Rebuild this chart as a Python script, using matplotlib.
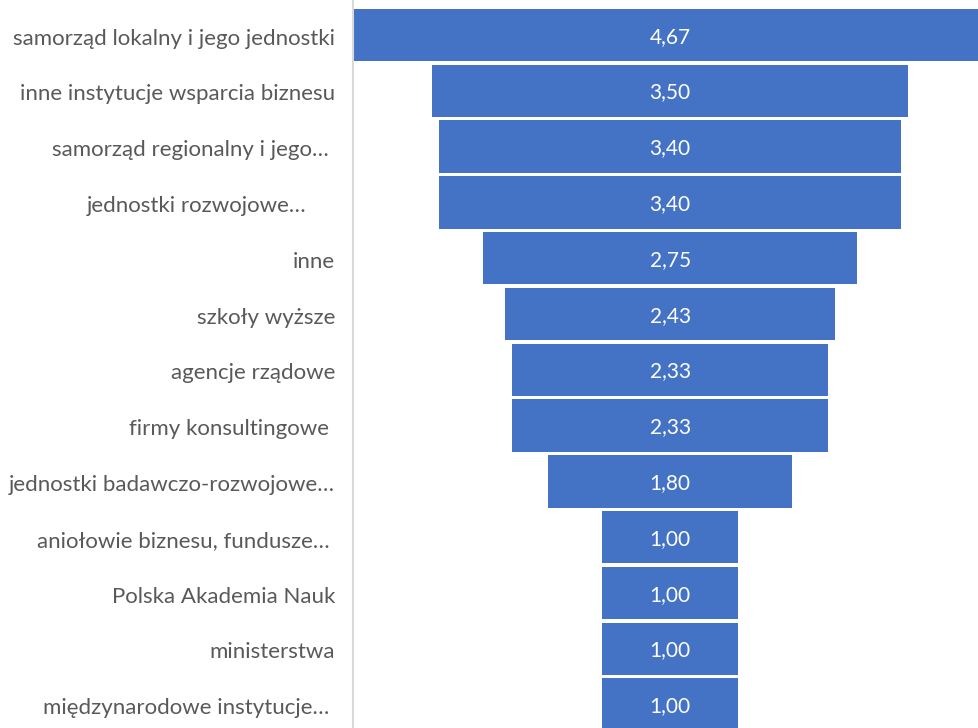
import matplotlib.pyplot as plt

categories = [
    "samorząd lokalny i jego jednostki",
    "inne instytucje wsparcia biznesu",
    "samorząd regionalny i jego… ",
    "jednostki rozwojowe…     ",
    "inne",
    "szkoły wyższe",
    "agencje rządowe",
    "firmy konsultingowe ",
    "jednostki badawczo-rozwojowe…",
    "aniołowie biznesu, fundusze… ",
    "Polska Akademia Nauk",
    "ministerstwa",
    "międzynarodowe instytucje… ",
]
values = [4.67, 3.50, 3.40, 3.40, 2.75, 2.43, 2.33, 2.33, 1.80, 1.00, 1.00, 1.00, 1.00]

plt.rcParams['font.family'] = ['Lato', 'DejaVu Sans']

fig = plt.figure(figsize=(9.79, 7.28), dpi=100)
ax = fig.add_axes([353 / 979, 0, 1 - 353 / 979, 1])

pos = list(range(len(values)))
lefts = [-v / 2 for v in values]
ax.barh(pos, values, left=lefts, height=0.94, color='#4472C4')

for i, v in enumerate(values):
    ax.text(0, i + 0.03, f"{v:.2f}".replace('.', ','), color='white',
            ha='center', va='center', fontsize=15)

ax.set_xlim(-2.335, 2.273)
ax.set_ylim(12.42, -0.627)
ax.set_yticks([p + 0.03 for p in pos])
ax.set_yticklabels(categories, fontsize=16, color='#595959')
ax.tick_params(axis='y', length=0, pad=13)
ax.set_xticks([])
for s in ['top', 'right', 'bottom']:
    ax.spines[s].set_visible(False)
ax.spines['left'].set_color('#d9d9d9')
ax.spines['left'].set_linewidth(1.5)

fig.savefig('out.png', dpi=100)
